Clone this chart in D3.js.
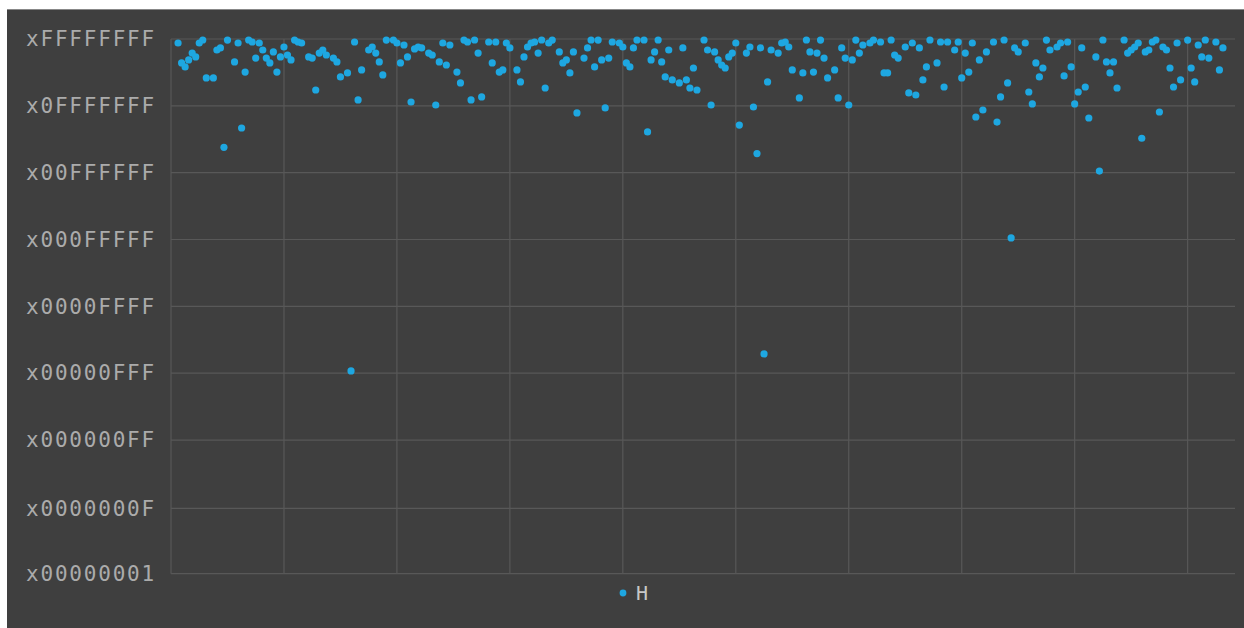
<!DOCTYPE html>
<html><head><meta charset="utf-8">
<script src="https://cdn.jsdelivr.net/npm/d3@7"></script>
<style>html,body{margin:0;padding:0;background:#fff;}svg{display:block;}</style>
</head><body>
<svg id="chart" width="1244" height="628"></svg>
<script>
const sampleIndex = [2,3,4,5,6,7,8,9,10,12,13,14,15,16,18,19,20,21,22,23,24,25,26,27,28,29,30,31,32,33,34,35,36,37,39,40,41,42,43,44,46,47,48,50,51,52,53,54,56,57,58,59,60,61,63,64,65,66,67,68,69,70,71,73,74,75,76,77,78,79,81,82,83,84,85,86,87,88,90,91,92,93,94,95,96,98,99,100,101,102,103,104,105,106,107,108,110,111,112,113,114,115,117,118,119,120,121,122,123,124,125,127,128,129,130,131,132,134,135,136,137,138,139,140,141,142,144,145,146,147,148,149,151,152,153,154,155,156,157,158,159,160,161,163,164,165,166,167,168,169,170,172,173,174,175,176,178,179,180,181,182,183,184,185,186,188,189,190,191,192,193,194,195,196,198,199,201,202,203,204,205,206,208,209,210,211,212,213,214,215,217,218,219,220,222,223,224,225,226,227,228,229,230,231,233,234,235,236,237,238,239,240,242,243,244,245,246,247,248,249,251,252,253,254,255,256,257,258,259,260,262,263,264,265,266,267,268,270,271,272,273,274,275,276,277,278,279,280,281,282,283,284,285,286,288,289,290,291,292,293,294,296,297,298];
const hashValue = [3.64e9,1.59e9,1.35e9,1.80e9,2.40e9,2.04e9,3.64e9,4.12e9,8.53e8,8.53e8,2.72e9,2.96e9,4.8e7,4.1e9,1.66e9,3.64e9,1.07e8,1.09e9,4.12e9,3.79e9,1.95e9,3.64e9,2.72e9,1.95e9,1.59e9,2.51e9,1.09e9,2.04e9,3.08e9,2.21e9,1.80e9,4.1e9,3.79e9,3.64e9,2.04e9,1.95e9,5.18e8,2.40e9,2.72e9,2.21e9,1.95e9,1.66e9,8.89e8,1.05e9,4.5e3,3.79e9,3.43e8,1.19e9,2.72e9,3.08e9,2.40e9,1.66e9,9.66e8,4.1e9,4.12e9,3.64e9,1.59e9,3.35e9,2.04e9,3.15e8,2.84e9,3.08e9,2.96e9,2.40e9,2.21e9,2.78e8,1.66e9,3.64e9,1.46e9,3.35e9,1.09e9,6.93e8,4.1e9,3.79e9,3.43e8,4.12e9,2.40e9,3.88e8,3.79e9,1.59e9,3.79e9,1.09e9,1.19e9,3.64e9,2.96e9,1.19e9,7.23e8,2.04e9,3.08e9,3.64e9,3.79e9,2.40e9,4.12e9,5.63e8,3.64e9,4.1e9,2.51e9,1.59e9,1.80e9,1.05e9,2.51e9,2.0e8,1.95e9,2.96e9,4.12e9,1.35e9,4.1e9,1.80e9,2.46e8,1.95e9,3.79e9,3.64e9,3.08e9,1.59e9,1.35e9,2.96e9,4.12e9,4.12e9,9.1e7,1.80e9,2.51e9,4.12e9,1.66e9,8.89e8,2.72e9,7.85e8,6.93e8,2.96e9,7.85e8,5.63e8,1.29e9,5.18e8,4.12e9,2.72e9,2.78e8,2.51e9,1.80e9,1.46e9,1.29e9,2.04e9,2.40e9,3.64e9,1.21e8,2.40e9,3.08e9,2.56e8,3.7e7,2.96e9,9.1e3,7.23e8,2.72e9,2.40e9,3.64e9,3.79e9,3.08e9,1.19e9,3.72e8,1.05e9,4.12e9,2.51e9,1.09e9,2.40e9,4.1e9,1.95e9,8.53e8,1.19e9,3.72e8,2.96e9,1.95e9,2.78e8,1.80e9,4.1e9,2.40e9,3.35e9,3.64e9,4.12e9,3.79e9,1.05e9,1.05e9,4.12e9,2.21e9,1.95e9,3.08e9,4.58e8,3.64e9,4.21e8,2.96e9,7.85e8,1.35e9,4.12e9,1.59e9,3.79e9,5.87e8,3.79e9,2.72e9,3.79e9,8.53e8,2.40e9,1.09e9,3.64e9,1.69e8,1.80e9,2.26e8,2.51e9,3.79e9,1.37e8,3.88e8,4.12e9,6.93e8,1.12e6,2.96e9,2.51e9,3.64e9,4.77e8,2.90e8,1.59e9,8.89e8,1.29e9,4.1e9,2.72e9,3.08e9,3.64e9,9.27e8,3.79e9,1.35e9,2.90e8,4.77e8,2.96e9,5.87e8,1.62e8,2.04e9,1.79e7,4.12e9,1.66e9,1.05e9,1.66e9,5.63e8,4.12e9,2.40e9,2.72e9,3.08e9,3.64e9,7.0e7,2.51e9,2.72e9,3.79e9,4.12e9,2.08e8,3.08e9,2.72e9,1.29e9,5.87e8,3.64e9,7.85e8,4.1e9,1.29e9,7.23e8,3.35e9,2.04e9,4.12e9,1.95e9,3.79e9,1.19e9,2.96e9];
const yTickValues = [0xFFFFFFFF,0x0FFFFFFF,0x00FFFFFF,0x000FFFFF,0x0000FFFF,0x00000FFF,0x000000FF,0x0000000F,0x00000001];
const yTickLabels = ["xFFFFFFFF","x0FFFFFFF","x00FFFFFF","x000FFFFF","x0000FFFF","x00000FFF","x000000FF","x0000000F","x00000001"];
const xTickValues = [0,32,64,96,128,160,192,224,256,288];
const seriesName = "H";

(function(){
const svg = d3.select("#chart");
const W = 1244, H = 628;
const pLeft = 171, pRight = 1235, pTop = 39, pBottom = 573.7;
const pointColor = "#1ea7e1";
const font = "'DejaVu Sans Mono', monospace";

svg.append("rect").attr("x",0).attr("y",0).attr("width",W).attr("height",H).attr("fill","#ffffff");
svg.append("rect").attr("x",7).attr("y",9).attr("width",W-7).attr("height",H-9).attr("fill","#3f3f3f");
svg.append("line").attr("x1",7).attr("x2",W).attr("y1",9.5).attr("y2",9.5).attr("stroke","#888").attr("stroke-width",1);

const x = d3.scaleLinear().domain([0, (pRight-pLeft)/3.53]).range([pLeft, pRight]);
const y = d3.scaleLog().base(2).domain([1, 0xFFFFFFFF]).range([pBottom, pTop]);

const grid = svg.append("g");
grid.selectAll("line.h").data(yTickValues).join("line").attr("class","h")
  .attr("x1",pLeft).attr("x2",pRight).attr("y1",d=>y(d)).attr("y2",d=>y(d))
  .attr("stroke","#585858").attr("stroke-width",1.2);
grid.selectAll("line.v").data(xTickValues).join("line").attr("class","v")
  .attr("x1",d=>x(d)).attr("x2",d=>x(d)).attr("y1",pTop).attr("y2",pBottom)
  .attr("stroke","#585858").attr("stroke-width",1.2);

const yAxis = d3.axisLeft(y).tickValues(yTickValues).tickFormat((d,i)=>yTickLabels[i]).tickSize(0).tickPadding(15);
const ya = svg.append("g").attr("transform",`translate(${pLeft},0)`).call(yAxis);
ya.select(".domain").remove();
ya.selectAll("text").attr("font-family",font).attr("font-size",21).attr("letter-spacing","1.8px").attr("fill","#ababab");

const pts = sampleIndex.map((d,i)=>({i:d, v:hashValue[i]}));
svg.append("g").selectAll("circle").data(pts).join("circle")
  .attr("cx",d=>x(d.i)).attr("cy",d=>y(d.v)).attr("r",3.6).attr("fill",pointColor);

const lg = svg.append("g").attr("transform","translate(623,593)");
lg.append("circle").attr("r",3.4).attr("fill",pointColor);
lg.append("text").attr("x",13).attr("y",7).attr("font-family",font).attr("font-size",20).attr("fill","#c8c8c8").text(seriesName);
})();
</script>
</body></html>
